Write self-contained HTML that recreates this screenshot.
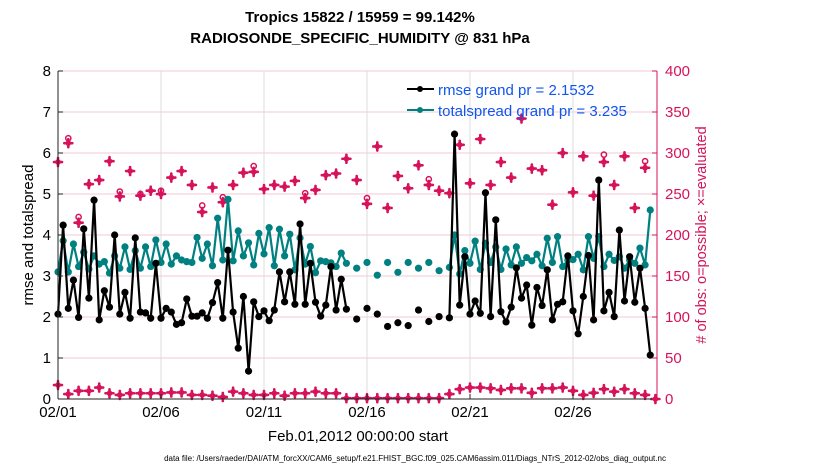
<!DOCTYPE html>
<html><head><meta charset="utf-8"><style>
body{margin:0;background:#fff;}
svg{display:block;font-family:"Liberation Sans",sans-serif;}
</style></head><body>
<svg id="chart" width="830" height="470" viewBox="0 0 830 470" xmlns="http://www.w3.org/2000/svg">
<rect width="830" height="470" fill="#fff"/>
<g id="grid"></g>
<g id="series"></g>
<g id="axes"></g>
<text x="360" y="22" text-anchor="middle" font-size="15" font-weight="bold">Tropics 15822 / 15959 = 99.142%</text>
<text x="360" y="43" text-anchor="middle" font-size="15" font-weight="bold">RADIOSONDE_SPECIFIC_HUMIDITY @ 831 hPa</text>
<text transform="translate(33,235) rotate(-90)" text-anchor="middle" font-size="15">rmse and totalspread</text>
<text transform="translate(706,235) rotate(-90)" text-anchor="middle" font-size="14.5" fill="#d4145a"># of obs: o=possible; ×=evaluated</text>
<text x="358" y="441" text-anchor="middle" font-size="15">Feb.01,2012 00:00:00 start</text>
<text x="415" y="461" text-anchor="middle" font-size="8">data file: /Users/raeder/DAI/ATM_forcXX/CAM6_setup/f.e21.FHIST_BGC.f09_025.CAM6assim.011/Diags_NTrS_2012-02/obs_diag_output.nc</text>
<g>
<g>
<line x1="407" y1="89" x2="434" y2="89" stroke="#000" stroke-width="2"/><circle cx="420" cy="89" r="3" fill="#000"/>
<text x="438" y="95" font-size="15" fill="#1155ee">rmse grand pr = 2.1532</text></g>
<g>
<line x1="407" y1="110" x2="434" y2="110" stroke="#008080" stroke-width="2"/><circle cx="420" cy="110" r="3" fill="#008080"/>
<text x="438" y="116" font-size="15" fill="#1155ee">totalspread grand pr = 3.235</text></g>
</g>
</svg>
<script>
const rmse=[2.07,4.24,2.21,2.90,1.99,4.15,2.46,4.85,1.93,2.64,2.24,4.0,2.07,2.60,1.97,3.93,2.12,2.10,1.97,3.31,1.97,2.21,2.12,1.82,1.86,2.44,2.02,2.02,2.10,1.97,2.35,2.84,1.97,3.63,2.12,1.24,2.50,0.68,2.37,2.01,2.15,1.91,2.17,3.10,2.37,3.10,2.31,4.27,2.31,3.31,2.36,2.02,2.29,3.23,2.17,2.92,2.19,
null,1.95,null,2.21,null,2.07,null,1.77,null,1.86,null,1.79,null,2.17,null,1.89,null,2.01,null,1.98,
6.46,2.29,3.47,2.07,2.39,2.09,5.03,2.01,4.37,2.13,1.88,2.24,3.20,2.46,2.78,1.80,2.72,2.28,3.15,1.93,2.31,2.37,3.49,2.15,1.59,2.50,3.50,1.93,5.34,2.15,2.60,2.01,4.12,2.39,3.47,2.36,3.19,2.21,1.07];
const spread=[3.10,3.86,3.10,3.78,3.23,3.58,3.17,3.49,3.29,3.35,3.07,3.49,3.19,3.71,3.16,3.62,3.19,3.71,3.23,3.88,3.33,3.78,3.29,3.49,3.39,3.35,3.33,3.94,3.43,3.78,3.25,4.41,3.39,4.87,3.37,4.10,3.49,3.81,3.27,4.04,3.54,4.18,3.25,4.14,3.49,4.02,3.15,3.93,3.29,3.72,3.08,3.37,3.35,3.32,3.23,3.56,3.31,
null,3.19,null,3.33,null,3.02,null,3.33,null,3.09,null,3.33,null,3.19,null,3.33,null,3.13,null,3.21,
4.0,3.05,3.62,3.31,3.85,3.16,3.80,3.33,3.71,3.16,3.66,3.27,3.71,3.31,3.45,3.37,3.53,3.25,3.92,3.33,3.96,3.23,3.39,3.40,3.53,3.15,3.96,3.43,3.96,3.23,3.53,3.38,3.47,3.19,3.39,3.31,3.68,3.27,4.61];
const evalHigh=[289,312,215,262,267,290,247,278,248,254,250,270,278,261,228,258,240,261,276,277,256,261,259,266,245,255,273,275,293,
267,238,308,233,272,257,285,261,254,251,310,263,317,261,289,270,342,281,279,237,300,252,296,248,289,261,296,233,282];
const possHigh=[289,318,222,262,267,290,253,278,250,254,254,270,278,261,236,258,246,261,276,284,256,261,259,266,251,255,273,275,293,
267,245,308,233,272,257,285,268,254,251,310,263,317,261,289,270,342,281,279,237,300,252,296,248,298,261,296,233,290];
const evalLow=[17,6,10,10,14,7,5,7,7,7,7,8,8,5,5,4,2.5,9,7,5,5,7,4,7,7,9,7,7,1,
1,1,1,1,1,1,1,1,1,6,12,14,14,13,11,13,13,7.5,13,13,14,10,5,7.5,12,9,12,7,5,0];
const leftTicks=[0,1,2,3,4,5,6,7,8];
const rightTicks=[0,50,100,150,200,250,300,350,400];
const dateTicks=[0,5,10,15,20,25];
const dateLabels=["02/01","02/06","02/11","02/16","02/21","02/26"];

const NS="http://www.w3.org/2000/svg";
const X0=58,X1=657,Y0=399,Y1=71,DAYPX=20.6;
const xDay=d=>X0+d*DAYPX;
const xIdx=i=>xDay(i/4);
const yL=v=>Y0-(v/8)*(Y0-Y1);
const yR=n=>Y0-(n/400)*(Y0-Y1);
function mk(tag,attrs,parent){const e=document.createElementNS(NS,tag);for(const k in attrs)e.setAttribute(k,attrs[k]);parent.appendChild(e);return e;}
const grid=document.getElementById('grid'),ser=document.getElementById('series'),ax=document.getElementById('axes');

rightTicks.forEach(t=>{const l=mk('line',{x1:X0,x2:X1,y1:yR(t),y2:yR(t),stroke:'#f2c9d6','stroke-width':1},grid);

});
dateTicks.forEach(d=>{const l=mk('line',{x1:xDay(d),x2:xDay(d),y1:Y1,y2:Y0,stroke:'#dcdcdc','stroke-width':1},grid);

});

function star(x,y,parent,name){const g=mk('g',{},parent);


mk('path',{d:`M${x-4},${y}H${x+4}M${x},${y-4}V${y+4}`,stroke:'#d6135a','stroke-width':2.6,'stroke-linecap':'round'},g);
mk('circle',{cx:x,cy:y,r:2.8,fill:'#d6135a'},g);}
evalHigh.forEach((n,k)=>{const x=xIdx(2*k);
if(possHigh[k]>n){const c=mk('circle',{cx:x,cy:yR(possHigh[k]),r:2.6,fill:'none',stroke:'#d6135a','stroke-width':1.5},ser);

}
star(x,yR(n),ser,'evaluated-marker');});
evalLow.forEach((n,k)=>{star(xIdx(2*k),yR(n),ser,'evaluated-marker-low');});

function drawSeries(arr,color,name){
 let d='';let pen=false;
 arr.forEach((v,i)=>{if(v==null){pen=false;return;}d+=(pen?'L':'M')+xIdx(i).toFixed(1)+','+yL(v).toFixed(1);pen=true;});
 const p=mk('path',{d:d,fill:'none',stroke:color,'stroke-width':2.2,'stroke-linejoin':'round'},ser);
 
 
 arr.forEach((v,i)=>{if(v==null)return;const c=mk('circle',{cx:xIdx(i),cy:yL(v),r:3.6,fill:color},ser);
 
 });
}
drawSeries(spread,'#008080','totalspread');
drawSeries(rmse,'#000','rmse');

let a=mk('line',{x1:X0,x2:X0,y1:Y1,y2:Y0,stroke:'#222','stroke-width':1},ax);


a=mk('line',{x1:X1,x2:X1,y1:Y1,y2:Y0,stroke:'#d6135a','stroke-width':1},ax);


a=mk('line',{x1:X0,x2:X1,y1:Y0,y2:Y0,stroke:'#222','stroke-width':1},ax);


leftTicks.forEach(t=>{mk('line',{x1:X0,x2:X0+5,y1:yL(t),y2:yL(t),stroke:'#222'},ax);
const tx=mk('text',{x:X0-7,y:yL(t)+5,'text-anchor':'end','font-size':15},ax);tx.textContent=t;

});
rightTicks.forEach(t=>{mk('line',{x1:X1-5,x2:X1,y1:yR(t),y2:yR(t),stroke:'#d6135a'},ax);
const tx=mk('text',{x:X1+8,y:yR(t)+5,'font-size':15,fill:'#d6135a'},ax);tx.textContent=t;

});
dateTicks.forEach((d,k)=>{mk('line',{x1:xDay(d),x2:xDay(d),y1:Y0,y2:Y0-5,stroke:'#222'},ax);
const tx=mk('text',{x:xDay(d),y:Y0+18,'text-anchor':'middle','font-size':15},ax);tx.textContent=dateLabels[k];

});
</script>
</body></html>
